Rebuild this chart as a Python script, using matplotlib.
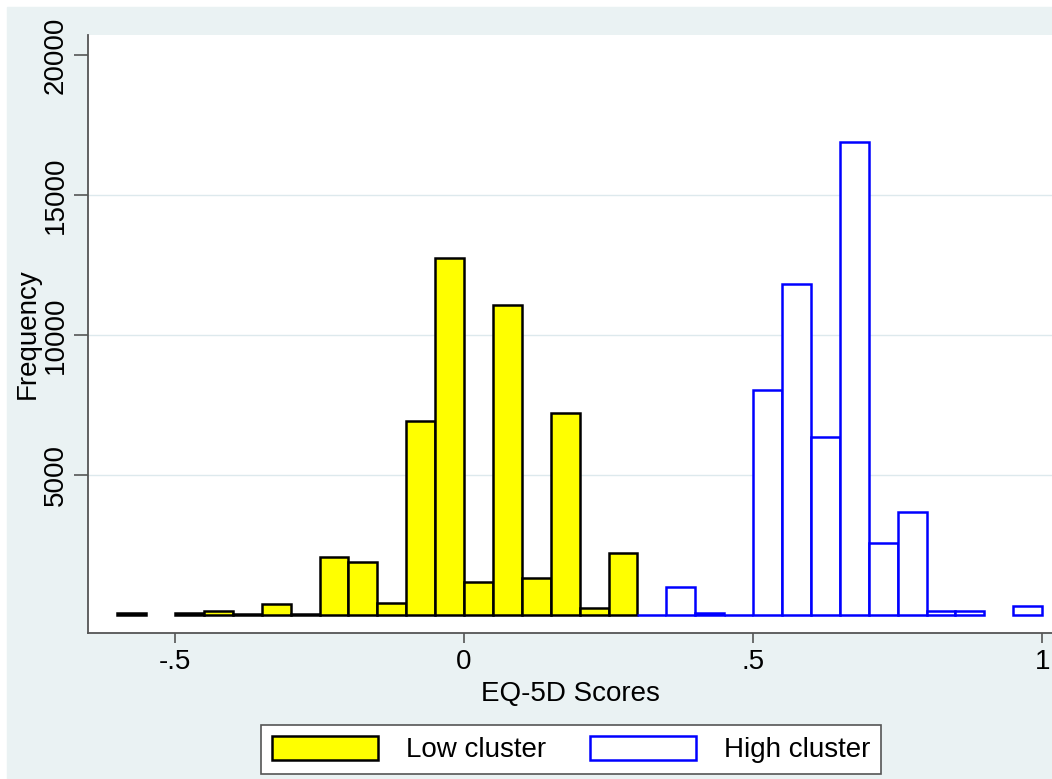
import numpy as np
import matplotlib.pyplot as plt
from matplotlib.patches import Rectangle

plt.rcParams['font.family'] = ['Liberation Sans', 'DejaVu Sans']

# histogram bins (width .05)
bin_width = 0.05
low_start = -0.6
low_counts = [80, 0, 60, 150, 40, 380, 20, 2080, 1900, 420,
              6930, 12740, 1170, 11060, 1330, 7200, 240, 2230]
high_start = 0.3
high_counts = [15, 1010, 80, 10, 8040, 11820, 6370, 16900,
               2560, 3690, 150, 130, 0, 320]

x_ticks = [-0.5, 0, 0.5, 1]
x_tick_labels = ['-.5', '0', '.5', '1']
y_ticks = [5000, 10000, 15000, 20000]
grid_levels = [5000, 10000, 15000]

low_counts = np.array(low_counts)
high_counts = np.array(high_counts)
low_edges = np.round(low_start + bin_width * np.arange(len(low_counts)), 2)
high_edges = np.round(high_start + bin_width * np.arange(len(high_counts)), 2)

fig = plt.figure(figsize=(10.52, 7.79), dpi=100, facecolor='white')
# Stata style light bluish background
fig.patches.append(Rectangle((7 / 1052, 0), 1, (779 - 7) / 779,
                             transform=fig.transFigure, color='#eaf2f3', zorder=-1))

ax = fig.add_axes([88 / 1052, 1 - 632.7 / 779, (1052 - 88) / 1052, (632.7 - 35) / 779])
ax.set_facecolor('white')

# empty bins are not drawn at all
m = low_counts > 0
ax.bar(low_edges[m], low_counts[m], width=bin_width, align='edge',
       color='yellow', edgecolor='black', linewidth=1.8, label='Low cluster', zorder=3)
m = high_counts > 0
ax.bar(high_edges[m], high_counts[m], width=bin_width, align='edge',
       color='white', edgecolor='blue', linewidth=1.8, label='High cluster', zorder=3)

for g in grid_levels:
    ax.axhline(g, color='#dde9ed', linewidth=1, zorder=1)

ax.set_xlim(-0.6505, 1.017)
ax.set_ylim(-632, 20714)

ax.set_xticks(x_ticks)
ax.set_xticklabels(x_tick_labels)
ax.set_yticks(y_ticks)
ax.set_yticklabels([str(v) for v in y_ticks], rotation=90, va='center')

for side in ['top', 'right']:
    ax.spines[side].set_visible(False)
for side in ['left', 'bottom']:
    ax.spines[side].set_color('#555555')
    ax.spines[side].set_linewidth(1.3)

ax.tick_params(axis='x', length=7, width=1.2, color='#555555', labelsize=20, pad=5)
ax.tick_params(axis='y', length=10, width=1.2, color='#555555', labelsize=20, pad=4)

ax.set_xlabel('EQ-5D Scores', fontsize=20, labelpad=4)
ax.set_ylabel('Frequency', fontsize=20, labelpad=1)

leg = fig.legend(loc='center', bbox_to_anchor=(0.543, 0.038), ncol=2,
                 fontsize=20, frameon=True, fancybox=False, framealpha=1,
                 edgecolor='#555555', handlelength=3.8, handleheight=0.95,
                 handletextpad=1.0, columnspacing=1.6, borderpad=0.4)
leg.get_frame().set_linewidth(1.2)

plt.savefig('out.png', dpi=100, facecolor=fig.get_facecolor())
